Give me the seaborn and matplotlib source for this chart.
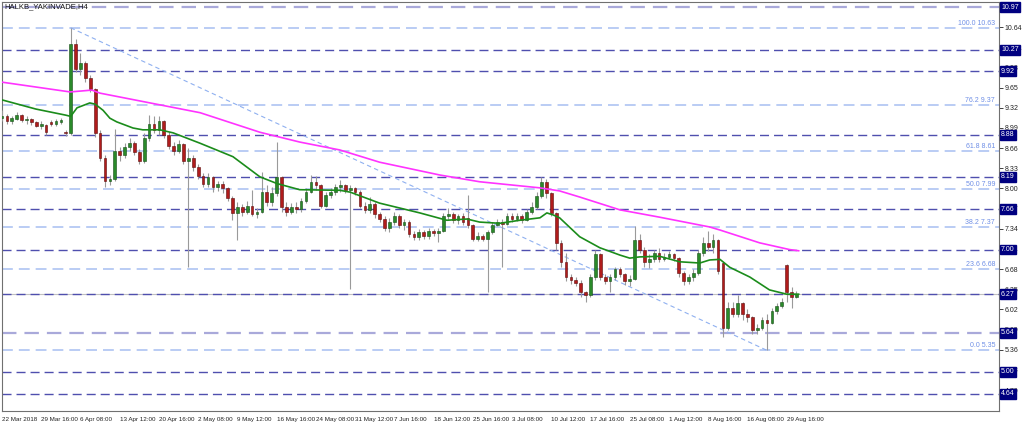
import matplotlib
matplotlib.use("Agg")
import matplotlib.pyplot as plt
import numpy as np
import pandas as pd
import seaborn as sns

sns.set_style("white")
plt.rcParams.update({"font.family": ["Liberation Sans", "DejaVu Sans"], "font.size": 5})

# H4 candles, one row of ten bars per line
opens = [
    9.15, 9.18, 9.10, 9.14, 9.20, 9.12, 9.14, 9.08, 9.03, 9.04,
    9.08, 9.06, 9.08, 8.92, 8.90, 10.36, 9.95, 10.05, 9.80, 9.62,
    8.90, 8.50, 8.12, 8.15, 8.62, 8.55, 8.68, 8.75, 8.60, 8.45,
    8.82, 9.05, 8.95, 9.10, 8.88, 8.70, 8.62, 8.72, 8.45, 8.50,
    8.35, 8.20, 8.08, 8.18, 8.02, 8.08, 8.00, 7.85, 7.60, 7.70,
    7.62, 7.72, 7.58, 7.62, 7.95, 7.78, 7.92, 8.18, 7.70, 7.62,
    7.70, 7.66, 7.80, 7.95, 8.10, 8.05, 7.72, 7.90, 7.95, 8.02,
    8.05, 7.98, 8.00, 7.95, 7.72, 7.65, 7.75, 7.58, 7.50, 7.35,
    7.45, 7.55, 7.40, 7.45, 7.25, 7.20, 7.28, 7.22, 7.30, 7.27,
    7.30, 7.55, 7.58, 7.48, 7.55, 7.52, 7.40, 7.18, 7.22, 7.18,
    7.28, 7.40, 7.45, 7.42, 7.55, 7.50, 7.55, 7.48, 7.62, 7.70,
    7.88, 8.10, 7.92, 7.60, 7.10, 6.80, 6.55, 6.50, 6.45, 6.30,
    6.25, 6.55, 6.92, 6.55, 6.48, 6.55, 6.68, 6.60, 6.48, 6.52,
    7.15, 7.00, 6.80, 6.85, 6.95, 6.85, 6.88, 6.92, 6.86, 6.62,
    6.48, 6.55, 6.62, 6.95, 7.10, 7.05, 7.15, 6.78, 5.72, 6.05,
    5.95, 6.12, 5.95, 5.90, 5.68, 5.72, 5.85, 5.80, 6.00, 6.08,
    6.75, 6.30, 6.22,
]
highs = [
    9.28, 9.22, 9.18, 9.25, 9.22, 9.18, 9.16, 9.10, 9.10, 9.06,
    9.12, 9.14, 9.16, 8.95, 10.63, 10.45, 10.22, 10.08, 9.85, 9.65,
    8.95, 8.55, 8.22, 8.98, 8.68, 8.75, 8.82, 8.78, 8.64, 8.90,
    9.20, 9.18, 9.18, 9.12, 8.92, 8.76, 8.80, 8.75, 8.66, 8.55,
    8.40, 8.25, 8.26, 8.20, 8.12, 8.12, 8.03, 7.88, 7.78, 7.75,
    7.80, 7.97, 7.68, 8.27, 8.05, 8.02, 8.76, 8.20, 7.78, 7.76,
    7.78, 7.85, 8.00, 8.22, 8.20, 8.08, 7.95, 8.00, 8.08, 8.14,
    8.08, 8.05, 8.03, 7.98, 7.78, 7.86, 7.78, 7.62, 7.55, 7.52,
    7.62, 7.58, 7.50, 7.48, 7.30, 7.34, 7.32, 7.35, 7.34, 7.36,
    7.60, 7.68, 7.62, 7.58, 7.60, 7.90, 7.42, 7.28, 7.25, 7.32,
    7.45, 7.50, 7.50, 7.60, 7.60, 7.60, 7.58, 7.66, 7.78, 7.95,
    8.19, 8.15, 7.95, 7.62, 7.15, 6.95, 6.60, 6.55, 6.50, 6.32,
    6.60, 7.00, 6.95, 6.60, 6.60, 6.72, 6.72, 6.62, 6.58, 7.38,
    7.25, 7.05, 6.92, 7.00, 7.02, 6.95, 6.97, 6.95, 6.88, 6.65,
    6.60, 6.68, 7.00, 7.20, 7.30, 7.25, 7.18, 6.80, 6.15, 6.15,
    6.25, 6.15, 6.02, 5.92, 5.78, 5.90, 5.95, 6.05, 6.12, 6.20,
    6.76, 6.38, 6.32,
]
lows = [
    9.10, 9.06, 9.05, 9.12, 9.08, 9.06, 9.04, 9.00, 8.98, 8.88,
    9.02, 9.03, 9.05, 8.86, 8.88, 9.90, 9.85, 9.75, 9.58, 8.85,
    8.45, 8.02, 8.05, 8.12, 8.45, 8.50, 8.62, 8.55, 8.40, 8.42,
    8.78, 8.90, 8.88, 8.82, 8.65, 8.55, 8.58, 8.40, 6.72, 8.28,
    8.15, 8.02, 8.03, 7.95, 7.96, 7.92, 7.80, 7.48, 7.15, 7.55,
    7.58, 7.55, 7.52, 7.60, 7.72, 7.72, 7.88, 7.62, 7.55, 7.58,
    7.60, 7.62, 7.76, 7.92, 7.98, 7.68, 7.70, 7.85, 7.90, 7.95,
    7.92, 6.35, 7.90, 7.68, 7.60, 7.60, 7.52, 7.45, 7.30, 7.28,
    7.40, 7.35, 7.32, 7.20, 7.15, 7.16, 7.18, 7.18, 7.22, 7.12,
    7.28, 7.50, 7.44, 7.42, 7.40, 7.35, 7.14, 7.14, 7.14, 6.30,
    7.25, 7.38, 6.72, 7.40, 7.45, 7.46, 7.44, 7.46, 7.58, 7.66,
    7.85, 7.85, 7.55, 7.00, 6.72, 6.48, 6.44, 6.40, 6.22, 6.15,
    6.22, 6.50, 6.50, 6.44, 6.30, 6.50, 6.55, 6.42, 6.40, 6.50,
    6.95, 6.72, 6.70, 6.80, 6.80, 6.82, 6.84, 6.82, 6.55, 6.42,
    6.44, 6.48, 6.58, 6.90, 6.98, 6.95, 6.60, 5.57, 5.68, 5.90,
    5.90, 5.85, 5.82, 5.62, 5.62, 5.68, 5.35, 5.78, 5.95, 6.05,
    6.15, 6.05, 6.20,
]
closes = [
    9.18, 9.10, 9.15, 9.20, 9.12, 9.14, 9.08, 9.03, 9.06, 8.92,
    9.06, 9.10, 9.12, 8.90, 10.36, 9.95, 10.05, 9.80, 9.62, 8.90,
    8.50, 8.12, 8.15, 8.62, 8.55, 8.68, 8.75, 8.60, 8.45, 8.82,
    9.05, 8.95, 9.10, 8.88, 8.70, 8.62, 8.72, 8.45, 8.50, 8.35,
    8.20, 8.08, 8.18, 8.02, 8.08, 8.00, 7.85, 7.60, 7.70, 7.62,
    7.72, 7.58, 7.62, 7.95, 7.78, 7.92, 8.18, 7.70, 7.62, 7.70,
    7.66, 7.80, 7.95, 8.10, 8.05, 7.72, 7.90, 7.95, 8.02, 8.05,
    7.98, 8.00, 7.95, 7.72, 7.65, 7.75, 7.58, 7.50, 7.35, 7.45,
    7.55, 7.40, 7.45, 7.25, 7.20, 7.28, 7.22, 7.30, 7.27, 7.30,
    7.55, 7.58, 7.48, 7.55, 7.45, 7.40, 7.18, 7.22, 7.18, 7.28,
    7.40, 7.45, 7.42, 7.55, 7.50, 7.55, 7.48, 7.62, 7.70, 7.88,
    8.10, 7.92, 7.60, 7.10, 6.80, 6.55, 6.50, 6.45, 6.30, 6.25,
    6.55, 6.92, 6.55, 6.48, 6.55, 6.68, 6.60, 6.48, 6.52, 7.15,
    7.00, 6.80, 6.85, 6.95, 6.85, 6.88, 6.92, 6.86, 6.62, 6.48,
    6.55, 6.62, 6.95, 7.10, 7.05, 7.15, 6.65, 5.72, 6.05, 5.95,
    6.12, 5.95, 5.90, 5.68, 5.72, 5.85, 5.80, 6.00, 6.08, 6.15,
    6.30, 6.22, 6.28,
]

# moving averages (bar position, price)
ma_fast_bar = [0, 6.9, 13, 14, 15.3, 17.9, 19, 20.6, 22, 23.4, 26.7, 28.7, 32.2,
               34.9, 40.4, 47.1, 52.6, 56.1, 60.7, 68.9, 71, 77, 85.2, 90.7, 94.8,
               97.4, 101.5, 105.6, 109.7, 111.1, 112.3, 113.7, 117.8, 121.9, 126,
               128, 130, 134.1, 138.2, 142.3, 144.3, 146.4, 148.4, 152.5, 156.5,
               160, 162.5]
ma_fast_val = [9.45, 9.30, 9.20, 9.18, 9.32, 9.40, 9.38, 9.28, 9.15, 9.09, 8.99,
               8.96, 8.96, 8.91, 8.74, 8.52, 8.19, 8.08, 7.98, 7.97, 7.94, 7.76,
               7.60, 7.48, 7.50, 7.45, 7.43, 7.48, 7.52, 7.60, 7.57, 7.52, 7.21,
               7.03, 6.91, 6.86, 6.88, 6.89, 6.80, 6.78, 6.83, 6.84, 6.71, 6.55,
               6.34, 6.27, 6.27]
ma_slow_bar = [0, 13.9, 18.3, 20, 40.4, 52.6, 60.7, 68.9, 77, 89.3, 97.4, 109.7,
               113.7, 117.8, 126, 134.1, 144.3, 146.4, 154.5, 160.6, 162.5]
ma_slow_val = [9.74, 9.58, 9.61, 9.56, 9.24, 8.92, 8.76, 8.63, 8.43, 8.22, 8.11,
               8.01, 7.96, 7.86, 7.65, 7.53, 7.37, 7.32, 7.11, 7.00, 6.98]

fib_pct = ["100.0", "76.2", "61.8", "50.0", "38.2", "23.6", "0.0"]
fib_level = [10.63, 9.37, 8.61, 7.99, 7.37, 6.68, 5.35]
trend_bar = [14, 156]
trend_val = [10.63, 5.35]
level_dark = [10.27, 9.92, 8.88, 8.19, 7.66, 7.00, 6.27, 5.00, 4.64]
level_light = [10.97, 5.64]
bid_price = 6.27

price_ticks = [10.64, 10.31, 9.98, 9.65, 9.32, 8.99, 8.66, 8.33, 8.00, 7.67,
               7.34, 7.01, 6.68, 6.35, 6.02, 5.69, 5.36, 5.03, 4.70]
date_labels = ["22 Mar 2018", "29 Mar 16:00", "6 Apr 08:00", "13 Apr 12:00",
               "20 Apr 16:00", "2 May 08:00", "9 May 12:00", "16 May 16:00",
               "24 May 08:00", "31 May 12:00", "7 Jun 16:00", "18 Jun 12:00",
               "25 Jun 16:00", "3 Jul 08:00", "10 Jul 12:00", "17 Jul 16:00",
               "25 Jul 08:00", "1 Aug 12:00", "8 Aug 16:00", "16 Aug 08:00",
               "29 Aug 16:00"]
date_bars = [0, 8, 16, 24, 32, 40, 48, 56, 64, 72, 80, 88, 96, 104, 112, 120,
             128, 136, 144, 152, 160]

df = pd.DataFrame({"open": opens, "high": highs, "low": lows, "close": closes})
df["bar"] = np.arange(len(df))
df["up"] = df["close"] >= df["open"]

fig = plt.figure(figsize=(10.24, 4.24), dpi=100)
ax = fig.add_axes([2 / 1024, 13 / 424, 997 / 1024, 409 / 424])

dash = (0, (6.5, 3.6))
for v in level_light:
    ax.axhline(v, color="#a9a9da", lw=1.6, ls=dash, zorder=1)
for v in fib_level:
    ax.axhline(v, color="#aec4f2", lw=1.2, ls=dash, zorder=1)
ax.axhline(bid_price, color="#c0c0c0", lw=0.8, zorder=1)
for v in level_dark:
    ax.axhline(v, color="#4f4fae", lw=1.0, ls=dash, zorder=1)

ax.plot(trend_bar, trend_val, color="#8fb0f0", lw=0.8, ls=(0, (4, 3)), zorder=2)

# candles
ax.vlines(df["bar"], df["low"], df["high"], color="#9a9a9a", lw=0.8, zorder=3)
body_low = df[["open", "close"]].min(axis=1)
body_h = (df["close"] - df["open"]).abs().clip(lower=0.015)
ax.bar(df["bar"], body_h, bottom=body_low, width=0.55,
       color=np.where(df["up"], "#2a8a2a", "#b01c1c"),
       edgecolor=np.where(df["up"], "#174d17", "#5c0c0c"),
       linewidth=0.4, zorder=4)

sns.lineplot(x=ma_slow_bar, y=ma_slow_val, ax=ax, color="#ff33ff", lw=1.2, zorder=5)
sns.lineplot(x=ma_fast_bar, y=ma_fast_val, ax=ax, color="#1b8c1b", lw=1.2, zorder=5)

yax = ax.get_yaxis_transform()
for pct, v in zip(fib_pct, fib_level):
    ax.text(0.996, v + 0.015, f"{pct} {v:.2f}", transform=yax, ha="right",
            va="bottom", color="#6f8fe6", fontsize=5)

ax.set_xlim(0.1, 203.3)
ax.set_ylim(4.358, 11.052)

ax.yaxis.tick_right()
ax.set_yticks(price_ticks)
ax.set_yticklabels([f"{v:.2f}" for v in price_ticks])
ax.tick_params(axis="y", length=3, width=0.6, pad=1, labelsize=5, colors="#222222")
ax.set_xticks(date_bars)
ax.set_xticklabels(date_labels, ha="left")
ax.tick_params(axis="x", length=3, width=0.6, pad=1, labelsize=4.5, colors="#222222")
ax.set_xlabel("")
ax.set_ylabel("")

for v in level_dark + level_light:
    ax.annotate(f"{v:.2f}", xy=(1, v), xycoords=yax, xytext=(1.5, 0),
                textcoords="offset points", ha="left", va="center",
                color="white", fontsize=5, annotation_clip=False, zorder=6,
                bbox=dict(boxstyle="square,pad=0.2", fc="#000080", ec="#000080"))

for s in ax.spines.values():
    s.set_color("#707070")
    s.set_linewidth(0.8)

fig.text(4 / 1024, 1 - 7 / 424, "HALKB_YAKINVADE,H4", ha="left", va="center",
         fontsize=5.5, color="#111111")

fig.savefig("out.png", dpi=100)
